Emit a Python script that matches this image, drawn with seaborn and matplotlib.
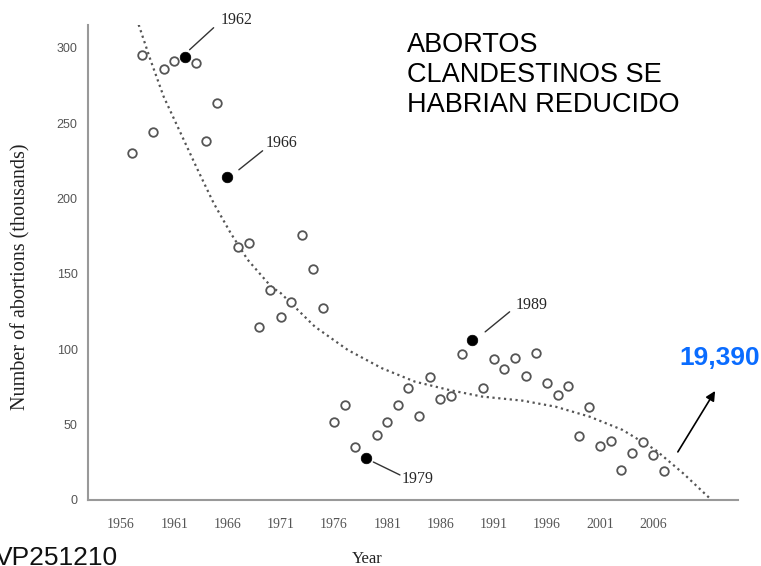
import matplotlib
matplotlib.use("Agg")
import matplotlib.pyplot as plt
import seaborn as sns
import pandas as pd

# ---- data ----
years = list(range(1957, 2008))
abortions = [230, 295, 244, 286, 291, 293.5, 290, 238, 263, 214.5,
             168, 170.5, 114.6, 139, 121.6, 131, 176, 153.5, 127, 52,
             63, 35.4, 27.7, 43, 52, 63, 74, 56, 81.4, 67,
             69, 96.7, 106, 74.5, 93.6, 86.7, 94.4, 82, 97.3, 77.4,
             69.5, 75.4, 42.7, 62, 36, 39.4, 20, 31, 38.5, 29.6, 19.5]
highlight_years = [1962, 1966, 1979, 1989]

trend_years = [1957.66, 1958.76, 1960.0, 1961.6, 1963.2, 1964.7, 1966.3, 1967.9,
               1970.1, 1971.0, 1974.2, 1977.3, 1980.5, 1983.6, 1986.8, 1989.9,
               1993.7, 1996.8, 2000.0, 2003.1, 2006.2, 2008.8, 2011.3]
trend_values = [315.2, 292, 267.6, 243.3, 219, 196.9, 177, 159.3,
                141.5, 137.2, 115, 99.5, 87.4, 78.5, 73, 68.6,
                65.9, 61.9, 55.3, 46.5, 33.2, 17.7, 1.1]

x_ticks = [1956, 1961, 1966, 1971, 1976, 1981, 1986, 1991, 1996, 2001, 2006, 2011]
x_tick_labels = ["1956", "1961", "1966", "1971", "1976", "1981", "1986", "1991",
                 "1996", "2001", "2006", ""]
y_ticks = [0, 50, 100, 150, 200, 250, 300]

df = pd.DataFrame({"year": years, "abortions": abortions})
df["hl"] = df["year"].isin(highlight_years)
trend = pd.DataFrame({"year": trend_years, "value": trend_values})

sns.set_style("white")
plt.rcParams["font.family"] = ["Liberation Serif", "DejaVu Serif"]

fig = plt.figure(figsize=(7.61, 5.66), dpi=100)
ax = fig.add_axes([88 / 761, 66 / 566, 650 / 761, 475 / 566])

sns.lineplot(data=trend, x="year", y="value", ax=ax, sort=False,
             color="#555555", linestyle=(0, (1, 1.6)), linewidth=1.6, zorder=2)
sns.scatterplot(data=df[~df["hl"]], x="year", y="abortions", ax=ax,
                marker="o", s=38, facecolor="white", edgecolor="#555555",
                linewidth=1.3, zorder=3)
sns.scatterplot(data=df[df["hl"]], x="year", y="abortions", ax=ax,
                marker="o", s=58, color="black", edgecolor="black",
                linewidth=0.5, zorder=4)

ax.set_xlim(1952.9, 2013.95)
ax.set_ylim(0, 315)
ax.set_xticks(x_ticks)
ax.set_xticklabels(x_tick_labels, fontsize=10, color="#555555",
                   family=["Liberation Serif"])
ax.set_yticks(y_ticks)
ax.set_yticklabels([str(v) for v in y_ticks], fontsize=9, color="#555555",
                   family=["Liberation Sans"])
ax.tick_params(axis="x", direction="out", length=5, width=1.5, color="#888888", pad=8)
ax.tick_params(axis="y", direction="out", length=6, width=1.2, color="#888888", pad=1.5)
ax.set_xlabel("")
ax.set_ylabel("Number of abortions (thousands)", fontsize=14.5, color="#222222")
ax.yaxis.set_label_coords(-0.089, 0.469)
for s in ["top", "right"]:
    ax.spines[s].set_visible(False)
for s in ["left", "bottom"]:
    ax.spines[s].set_color("#999999")
    ax.spines[s].set_linewidth(1.5)

# annotations
ann_style = dict(color="#333333", lw=1.0)
ax.plot([1962.44, 1964.7], [298.6, 313.2], clip_on=False, **ann_style)
ax.text(1965.4, 318.5, "1962", fontsize=11.5, va="center", ha="left", clip_on=False)
ax.plot([1967.07, 1969.3], [219, 231.6], **ann_style)
ax.text(1969.6, 236.9, "1966", fontsize=11.5, va="center", ha="left")
ax.plot([1990.2, 1992.5], [111.5, 124.8], **ann_style)
ax.text(1993.1, 129.4, "1989", fontsize=11.5, va="center", ha="left")
ax.plot([1979.7, 1982.2], [25.2, 16.6], **ann_style)
ax.text(1982.4, 13.9, "1979", fontsize=11.5, va="center", ha="left")

ax.annotate("", xy=(2011.8, 72.3), xytext=(2008.3, 31.9),
            arrowprops=dict(arrowstyle="-|>", color="black", lw=1.2,
                            mutation_scale=14, shrinkA=0, shrinkB=0),
            annotation_clip=False)
ax.text(2012.2, 94.2, "19,390", fontsize=19, fontweight="bold", color="#0a6cff",
        ha="center", va="center", family=["Liberation Sans"], clip_on=False)

fig.text(407 / 761, 1 - 32 / 566,
         "ABORTOS\nCLANDESTINOS SE\nHABRIAN REDUCIDO",
         fontsize=19.5, ha="left", va="top", linespacing=1.2,
         family=["Liberation Sans"], color="black")
fig.text(367 / 761, 1 - 551 / 566, "Year", fontsize=12, ha="center", va="top",
         color="#222222")
fig.text(-5 / 761, 1 - 546 / 566, "VP251210", fontsize=19, ha="left", va="top",
         family=["Liberation Sans"], color="#111111")

fig.savefig("out.png", dpi=100)
